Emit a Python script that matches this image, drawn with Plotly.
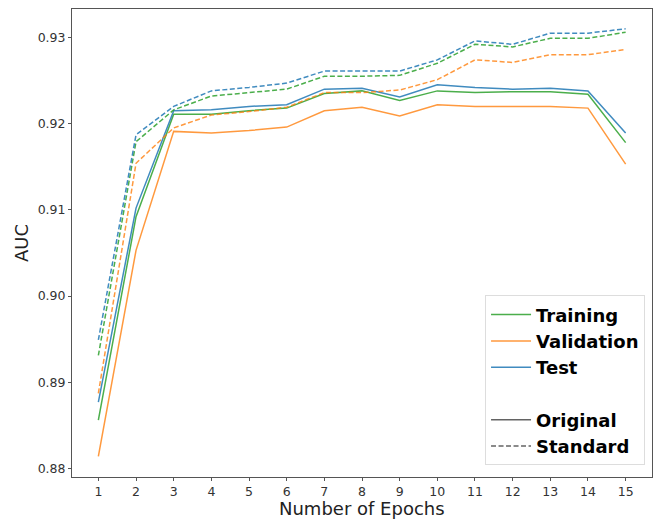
import plotly.graph_objects as go

epochs = list(range(1, 16))

train_orig = [0.8856, 0.9092, 0.9211, 0.9211, 0.9215, 0.9218, 0.9235, 0.9238, 0.9227, 0.9238, 0.9236, 0.9237, 0.9237, 0.9234, 0.9178]
val_orig = [0.8814, 0.9053, 0.9191, 0.9189, 0.9192, 0.9196, 0.9215, 0.9219, 0.9209, 0.9222, 0.9220, 0.9220, 0.9220, 0.9218, 0.9153]
test_orig = [0.8877, 0.9102, 0.9215, 0.9216, 0.9220, 0.9222, 0.9240, 0.9241, 0.9231, 0.9245, 0.9242, 0.9240, 0.9241, 0.9238, 0.9189]

train_std = [0.8931, 0.9179, 0.9216, 0.9232, 0.9236, 0.9240, 0.9255, 0.9255, 0.9256, 0.9270, 0.9292, 0.9289, 0.9299, 0.9299, 0.9306]
val_std = [0.8887, 0.9154, 0.9195, 0.9210, 0.9214, 0.9219, 0.9236, 0.9236, 0.9239, 0.9251, 0.9274, 0.9271, 0.9280, 0.9280, 0.9286]
test_std = [0.8949, 0.9187, 0.9220, 0.9238, 0.9242, 0.9247, 0.9261, 0.9261, 0.9261, 0.9274, 0.9296, 0.9292, 0.9305, 0.9305, 0.9310]

y_ticks = [0.88, 0.89, 0.90, 0.91, 0.92, 0.93]
y_tick_labels = ["0.88", "0.89", "0.90", "0.91", "0.92", "0.93"]

GREEN = "rgba(44,160,44,0.85)"
ORANGE = "rgba(255,127,14,0.8)"
BLUE = "rgba(31,119,180,0.85)"
DASH = "5px,2.5px"

fig = go.Figure()

series = [
    (train_orig, GREEN, "solid"),
    (val_orig, ORANGE, "solid"),
    (test_orig, BLUE, "solid"),
    (train_std, GREEN, DASH),
    (val_std, ORANGE, DASH),
    (test_std, BLUE, DASH),
]
for vals, col, dash in series:
    fig.add_trace(go.Scatter(x=epochs, y=vals, mode="lines",
                             line=dict(color=col, width=1.5, dash=dash),
                             showlegend=False, hoverinfo="skip"))

# legend entries
legend_items = [
    ("Training", GREEN, "solid", "g1"),
    ("Validation", ORANGE, "solid", "g1"),
    ("Test", BLUE, "solid", "g1"),
    ("Original", "rgba(60,60,60,0.8)", "solid", "g2"),
    ("Standard", "rgba(60,60,60,0.8)", DASH, "g2"),
]
for name, col, dash, grp in legend_items:
    fig.add_trace(go.Scatter(x=[None], y=[None], mode="lines", name=name,
                             legendgroup=grp,
                             line=dict(color=col, width=1.5, dash=dash)))

axis_common = dict(
    showline=True, linecolor="#555", linewidth=1, mirror=True,
    ticks="outside", ticklen=3, tickcolor="#555", tickwidth=1,
    showgrid=False, zeroline=False, automargin=False,
    tickfont=dict(family="DejaVu Sans", size=12.5, color="#333"),
)

fig.update_layout(
    width=654, height=519,
    margin=dict(l=72, r=2, t=9, b=42, autoexpand=False),
    paper_bgcolor="white", plot_bgcolor="white",
    font=dict(family="DejaVu Sans", color="#222"),
    xaxis=dict(range=[0.3, 15.7], tickmode="array", tickvals=epochs, **axis_common),
    yaxis=dict(range=[0.8790, 0.9333], tickmode="array", tickvals=y_ticks, ticktext=y_tick_labels,
               title=dict(text="AUC", font=dict(size=18, family="DejaVu Sans", color="#222"), standoff=4),
               **axis_common),
    legend=dict(
        x=0.988, y=0.025, xanchor="right", yanchor="bottom",
        bgcolor="white", bordercolor="#ddd", borderwidth=1,
        font=dict(family="DejaVu Sans", size=18, color="black", weight="bold"),
        traceorder="grouped", tracegroupgap=26,
        itemwidth=40,
    ),
    annotations=[dict(
        text="Number of Epochs", xref="paper", yref="paper",
        x=0.5, y=-0.068, xanchor="center", yanchor="middle",
        showarrow=False, font=dict(size=18, family="DejaVu Sans", color="#222"),
    )],
)

fig.write_html("out.html",
               config={"displayModeBar": False},
               post_script="document.body.style.margin='0';document.body.style.padding='0';document.body.style.overflow='hidden';")
